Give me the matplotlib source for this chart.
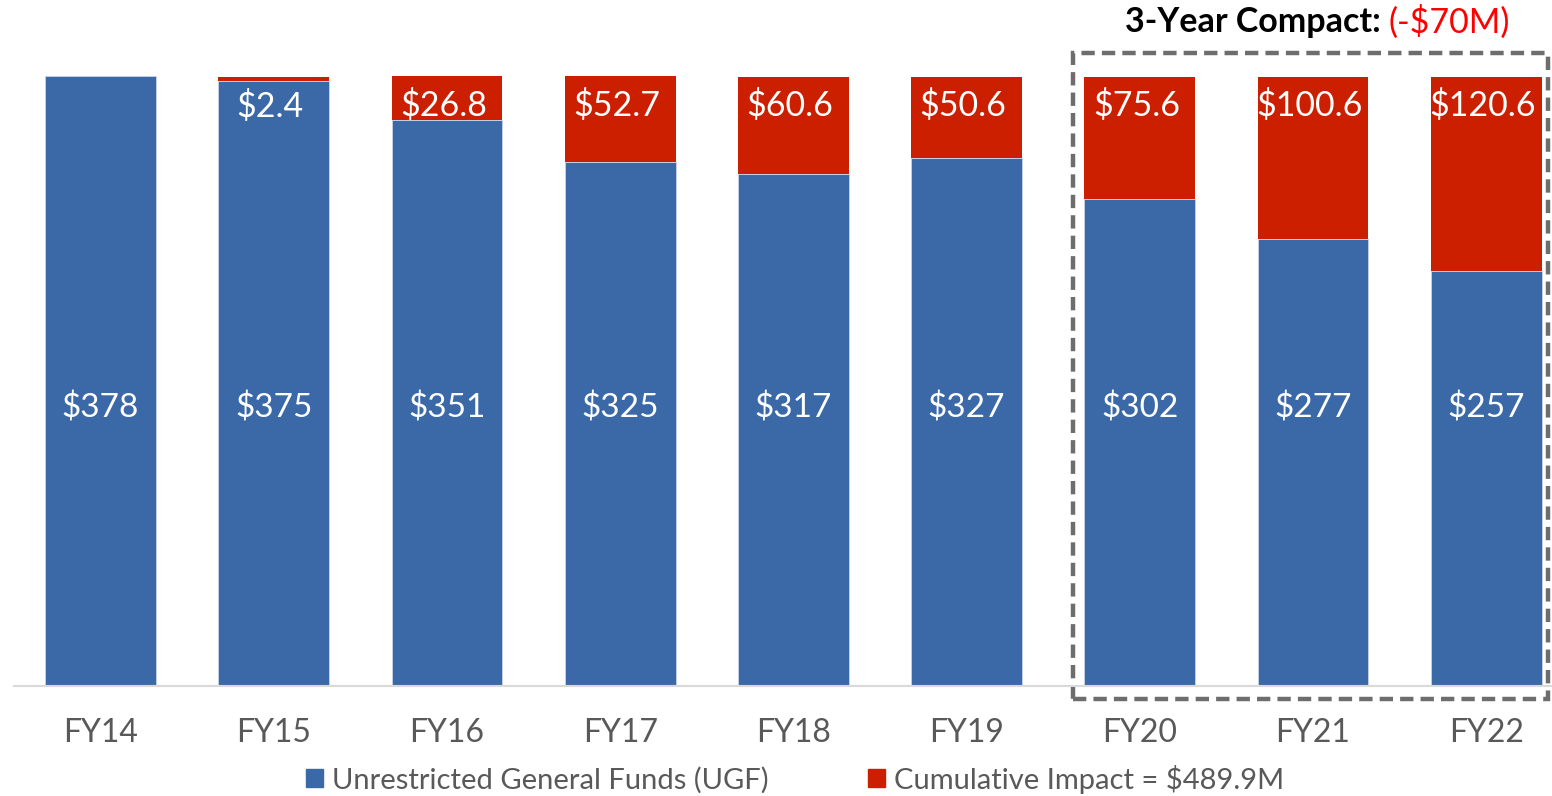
import matplotlib.pyplot as plt
from matplotlib.patches import Rectangle

# ---- data ($M) ----
years = ["FY14", "FY15", "FY16", "FY17", "FY18", "FY19", "FY20", "FY21", "FY22"]
ugf = [378, 375, 351, 325, 317, 327, 302, 277, 257]
impact = [0, 2.4, 26.8, 52.7, 60.6, 50.6, 75.6, 100.6, 120.6]
ugf_labels = ["$378", "$375", "$351", "$325", "$317", "$327", "$302", "$277", "$257"]
impact_labels = ["", "$2.4", "$26.8", "$52.7", "$60.6", "$50.6", "$75.6", "$100.6", "$120.6"]

BLUE = "#3b69a7"
RED = "#cc1f00"
GREY_TXT = "#595959"

plt.rcParams["font.family"] = ["Lato", "DejaVu Sans"]

fig = plt.figure(figsize=(15.52, 7.96), dpi=100)
ax = fig.add_axes([0.009, 1 - 686 / 796, 0.991, (686 - 76) / 796])

x = list(range(len(years)))
bw = 0.64
ax.bar(x, ugf, width=bw, color=BLUE, edgecolor="#c9d3e6", linewidth=0.6)
ax.bar(x, impact, width=bw, bottom=ugf, color=RED, linewidth=0)

top = max(u + i for u, i in zip(ugf, impact))
ax.set_xlim(-0.5, 8.38)
ax.set_ylim(0, top)

# value labels
for xi, u, lab in zip(x, ugf, ugf_labels):
    ax.text(xi, top * 0.455, lab, ha="center", va="center", color="white", fontsize=24)
for xi, u, i, lab in zip(x, ugf, impact, impact_labels):
    if lab:
        ax.text(xi - 0.02, u + i - 18, lab, ha="center", va="center", color="white", fontsize=24.5)

# axes styling
for side in ["left", "right", "top"]:
    ax.spines[side].set_visible(False)
ax.spines["bottom"].set_color("#d9d9d9")
ax.spines["bottom"].set_linewidth(1.5)
ax.set_yticks([])
ax.set_xticks(x)
ax.set_xticklabels(years, fontsize=23, color=GREY_TXT)
ax.tick_params(axis="x", length=0, pad=23)

# dashed box around the compact years
box = Rectangle((5.613, -8.06), 8.355 - 5.613, 392.3 + 8.06, fill=False,
                edgecolor="#6d6d6d", linewidth=3.2, linestyle=(0, (3, 1.6)),
                clip_on=False)
ax.add_patch(box)

# box title
fig.text(1381 / 1552, 1 - 22 / 796, "3-Year Compact:", ha="right", va="center",
         fontsize=24.5, fontweight="bold", color="black")
fig.text(1388 / 1552, 1 - 22 / 796, "(-$70M)", ha="left", va="center",
         fontsize=24.5, color="#ff0000")

# legend
handles = [Rectangle((0, 0), 1, 1, color=BLUE), Rectangle((0, 0), 1, 1, color=RED)]
fig.legend(handles, ["Unrestricted General Funds (UGF)", "Cumulative Impact = $489.9M"],
           loc="center", bbox_to_anchor=(795 / 1552, 1 - 779 / 796), ncol=2,
           frameon=False, fontsize=21, labelcolor=GREY_TXT,
           handlelength=0.6, handleheight=0.6, handletextpad=0.3, columnspacing=3.4)

fig.savefig("out.png", dpi=100)
